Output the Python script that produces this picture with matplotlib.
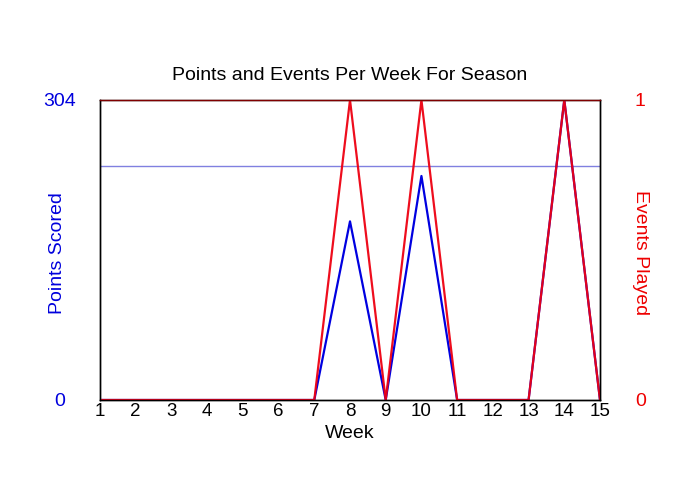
import matplotlib.pyplot as plt
import numpy as np

plt.rcParams['font.family'] = ['Liberation Sans', 'DejaVu Sans']

weeks = list(range(1, 16))
points = [0, 0, 0, 0, 0, 0, 0, 181, 0, 227, 0, 0, 0, 304, 0]
events = [0, 0, 0, 0, 0, 0, 0, 1, 0, 1, 0, 0, 0, 1, 0]
ref_line = 237
pts_max = 304

fig = plt.figure(figsize=(7, 5), dpi=100)
ax = fig.add_axes([100/700, 100/500, 500/700, 300/500])
ax2 = ax.twinx()

ax.plot(weeks, points, color='#0000e0', lw=1.6, zorder=3)
ax.axhline(ref_line, color='#8080e0', lw=1)
ax2.plot(weeks, events, color='#ee0011', lw=1.6, alpha=0.95)

ax.set_xlim(1, 15)
ax.set_ylim(0, pts_max)
ax2.set_ylim(0, 1)
ax.set_xticks(weeks)
ax.set_yticks([0, pts_max])
ax2.set_yticks([0, 1])

ax.tick_params(axis='x', length=0, labelsize=13.5, pad=2)
ax.tick_params(axis='y', length=0, labelsize=14, labelcolor='#0000dd', pad=29)
ax2.tick_params(axis='y', length=0, labelsize=14, labelcolor='#ee0000', pad=29)
for lab in ax.get_yticklabels() + ax2.get_yticklabels():
    lab.set_horizontalalignment('center')

ax.set_xlabel('Week', fontsize=14, labelpad=3.5)
ax.set_ylabel('Points Scored', fontsize=14, color='#0000dd', va='center')
ax.yaxis.set_label_coords(-0.084, 0.49)
ax2.set_ylabel('Events Played', fontsize=14, color='#ee0000', rotation=270,
               va='center')
ax2.yaxis.set_label_coords(1.082, 0.49)
ax.set_title('Points and Events Per Week For Season', fontsize=14, pad=14.5)

for a in (ax, ax2):
    for s in a.spines.values():
        s.set_color('black')
        s.set_linewidth(1)
ax2.spines['top'].set_color('#800000')

fig.savefig('out.png')
